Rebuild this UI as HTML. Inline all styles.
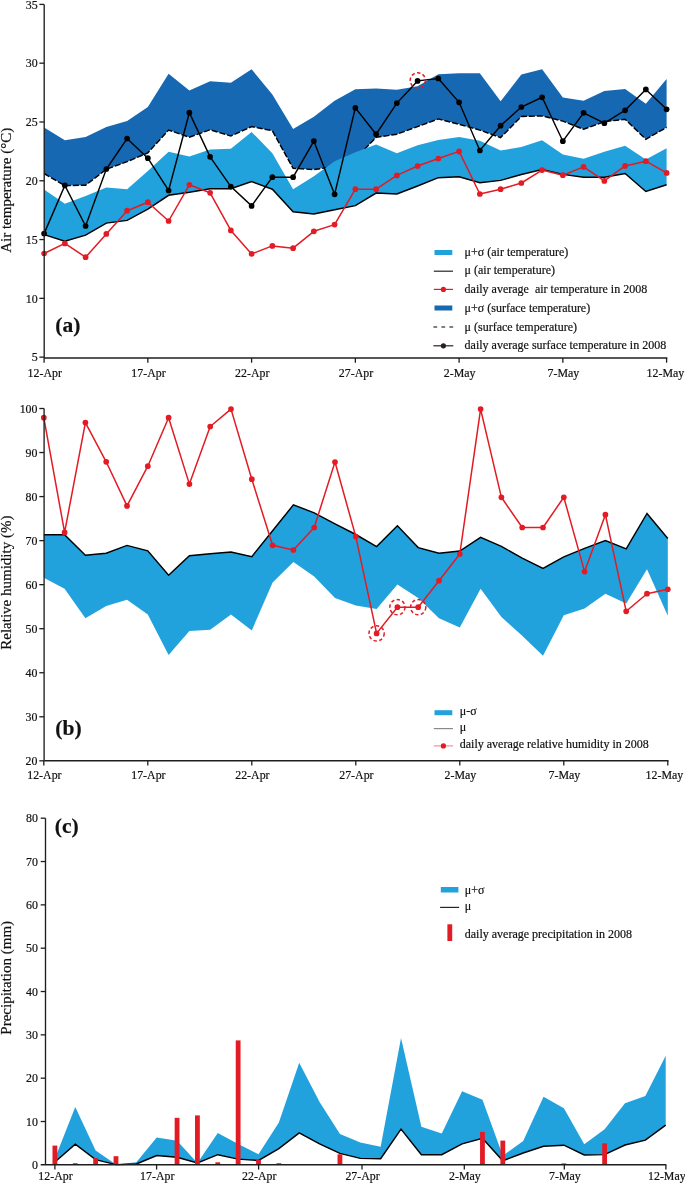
<!DOCTYPE html>
<html><head><meta charset="utf-8"><style>
html,body{margin:0;padding:0;background:#fff;}
body{width:685px;height:1183px;overflow:hidden;}
svg{display:block;will-change:transform;}
text{font-family:"Liberation Serif",serif;fill:#111;stroke:#111;stroke-width:0.2px;}
.tk{font-size:11.9px;}
.ax{font-size:15.0px;}
.lg{font-size:12px;}
.pl{font-size:21.5px;font-weight:bold;}
</style></head><body>
<svg width="685" height="1183" viewBox="0 0 685 1183">
<polygon points="44.10,127.60 64.85,140.20 85.60,136.90 106.35,127.00 127.10,121.10 147.85,107.00 168.60,73.80 189.35,90.50 210.10,81.30 230.85,82.70 251.60,69.20 272.35,94.60 293.10,128.90 313.85,116.80 334.60,100.80 355.35,89.30 376.10,88.40 396.85,89.80 417.60,86.30 438.35,74.20 459.10,73.30 479.85,73.30 500.60,101.20 521.35,74.60 542.10,69.20 562.85,97.40 583.60,100.80 604.35,90.90 625.10,89.00 645.85,103.70 666.60,79.00 666.60,127.40 645.85,139.30 625.10,119.20 604.35,121.70 583.60,129.30 562.85,121.10 542.10,115.90 521.35,116.50 500.60,137.60 479.85,130.10 459.10,124.30 438.35,118.90 417.60,126.60 396.85,134.20 376.10,137.40 355.35,158.90 334.60,166.50 313.85,169.60 293.10,168.30 272.35,130.70 251.60,126.60 230.85,136.00 210.10,129.80 189.35,137.20 168.60,130.10 147.85,152.80 127.10,161.70 106.35,169.30 85.60,185.20 64.85,185.60 44.10,173.50" fill="#1668b2"/>
<polyline points="44.10,173.50 64.85,185.60 85.60,185.20 106.35,169.30 127.10,161.70 147.85,152.80 168.60,130.10 189.35,137.20 210.10,129.80 230.85,136.00 251.60,126.60 272.35,130.70 293.10,168.30 313.85,169.60 334.60,166.50 355.35,158.90 376.10,137.40 396.85,134.20 417.60,126.60 438.35,118.90 459.10,124.30 479.85,130.10 500.60,137.60 521.35,116.50 542.10,115.90 562.85,121.10 583.60,129.30 604.35,121.70 625.10,119.20 645.85,139.30 666.60,127.40" fill="none" stroke="#000" stroke-width="1.45" stroke-dasharray="6,2"/>
<polygon points="44.10,189.60 64.85,203.80 85.60,196.00 106.35,187.60 127.10,189.30 147.85,171.00 168.60,151.80 189.35,156.40 210.10,149.60 230.85,148.80 251.60,131.90 272.35,153.20 293.10,189.20 313.85,176.30 334.60,161.20 355.35,152.30 376.10,144.50 396.85,153.30 417.60,145.20 438.35,139.90 459.10,136.90 479.85,140.80 500.60,150.50 521.35,147.00 542.10,140.20 562.85,154.50 583.60,158.70 604.35,151.70 625.10,145.80 645.85,159.60 666.60,148.30 666.60,184.70 645.85,191.50 625.10,173.50 604.35,177.30 583.60,177.30 562.85,174.40 542.10,169.50 521.35,174.50 500.60,180.40 479.85,182.80 459.10,176.80 438.35,177.70 417.60,186.00 396.85,194.00 376.10,193.10 355.35,205.60 334.60,209.70 313.85,213.90 293.10,211.80 272.35,189.20 251.60,181.60 230.85,188.70 210.10,188.70 189.35,192.30 168.60,195.30 147.85,209.10 127.10,220.40 106.35,223.10 85.60,235.20 64.85,241.20 44.10,234.60" fill="#22a2dc"/>
<polyline points="44.10,234.60 64.85,241.20 85.60,235.20 106.35,223.10 127.10,220.40 147.85,209.10 168.60,195.30 189.35,192.30 210.10,188.70 230.85,188.70 251.60,181.60 272.35,189.20 293.10,211.80 313.85,213.90 334.60,209.70 355.35,205.60 376.10,193.10 396.85,194.00 417.60,186.00 438.35,177.70 459.10,176.80 479.85,182.80 500.60,180.40 521.35,174.50 542.10,169.50 562.85,174.40 583.60,177.30 604.35,177.30 625.10,173.50 645.85,191.50 666.60,184.70" fill="none" stroke="#000" stroke-width="1.45"/>
<polyline points="44.10,253.50 64.85,243.40 85.60,257.20 106.35,233.90 127.10,210.70 147.85,202.20 168.60,221.00 189.35,184.80 210.10,192.80 230.85,230.40 251.60,253.90 272.35,245.90 293.10,248.20 313.85,231.30 334.60,224.60 355.35,189.20 376.10,189.20 396.85,175.40 417.60,166.00 438.35,158.50 459.10,151.40 479.85,194.00 500.60,189.20 521.35,183.00 542.10,170.10 562.85,175.20 583.60,166.90 604.35,180.90 625.10,165.90 645.85,161.20 666.60,172.90" fill="none" stroke="#e21b24" stroke-width="1.5" stroke-linejoin="round"/>
<circle cx="44.10" cy="253.5" r="2.85" fill="#e21b24"/>
<circle cx="64.85" cy="243.4" r="2.85" fill="#e21b24"/>
<circle cx="85.60" cy="257.2" r="2.85" fill="#e21b24"/>
<circle cx="106.35" cy="233.9" r="2.85" fill="#e21b24"/>
<circle cx="127.10" cy="210.7" r="2.85" fill="#e21b24"/>
<circle cx="147.85" cy="202.2" r="2.85" fill="#e21b24"/>
<circle cx="168.60" cy="221.0" r="2.85" fill="#e21b24"/>
<circle cx="189.35" cy="184.8" r="2.85" fill="#e21b24"/>
<circle cx="210.10" cy="192.8" r="2.85" fill="#e21b24"/>
<circle cx="230.85" cy="230.4" r="2.85" fill="#e21b24"/>
<circle cx="251.60" cy="253.9" r="2.85" fill="#e21b24"/>
<circle cx="272.35" cy="245.9" r="2.85" fill="#e21b24"/>
<circle cx="293.10" cy="248.2" r="2.85" fill="#e21b24"/>
<circle cx="313.85" cy="231.3" r="2.85" fill="#e21b24"/>
<circle cx="334.60" cy="224.6" r="2.85" fill="#e21b24"/>
<circle cx="355.35" cy="189.2" r="2.85" fill="#e21b24"/>
<circle cx="376.10" cy="189.2" r="2.85" fill="#e21b24"/>
<circle cx="396.85" cy="175.4" r="2.85" fill="#e21b24"/>
<circle cx="417.60" cy="166.0" r="2.85" fill="#e21b24"/>
<circle cx="438.35" cy="158.5" r="2.85" fill="#e21b24"/>
<circle cx="459.10" cy="151.4" r="2.85" fill="#e21b24"/>
<circle cx="479.85" cy="194.0" r="2.85" fill="#e21b24"/>
<circle cx="500.60" cy="189.2" r="2.85" fill="#e21b24"/>
<circle cx="521.35" cy="183.0" r="2.85" fill="#e21b24"/>
<circle cx="542.10" cy="170.1" r="2.85" fill="#e21b24"/>
<circle cx="562.85" cy="175.2" r="2.85" fill="#e21b24"/>
<circle cx="583.60" cy="166.9" r="2.85" fill="#e21b24"/>
<circle cx="604.35" cy="180.9" r="2.85" fill="#e21b24"/>
<circle cx="625.10" cy="165.9" r="2.85" fill="#e21b24"/>
<circle cx="645.85" cy="161.2" r="2.85" fill="#e21b24"/>
<circle cx="666.60" cy="172.9" r="2.85" fill="#e21b24"/>
<polyline points="44.10,233.60 64.85,185.40 85.60,226.00 106.35,169.00 127.10,138.50 147.85,158.20 168.60,190.50 189.35,112.70 210.10,156.80 230.85,186.60 251.60,205.90 272.35,177.20 293.10,177.20 313.85,141.10 334.60,194.30 355.35,107.90 376.10,134.20 396.85,103.10 417.60,80.90 438.35,78.50 459.10,102.30 479.85,150.50 500.60,125.70 521.35,107.00 542.10,97.30 562.85,141.20 583.60,112.80 604.35,123.20 625.10,110.30 645.85,89.40 666.60,109.30" fill="none" stroke="#000" stroke-width="1.45"/>
<circle cx="44.10" cy="233.6" r="2.85" fill="#000"/>
<circle cx="64.85" cy="185.4" r="2.85" fill="#000"/>
<circle cx="85.60" cy="226.0" r="2.85" fill="#000"/>
<circle cx="106.35" cy="169.0" r="2.85" fill="#000"/>
<circle cx="127.10" cy="138.5" r="2.85" fill="#000"/>
<circle cx="147.85" cy="158.2" r="2.85" fill="#000"/>
<circle cx="168.60" cy="190.5" r="2.85" fill="#000"/>
<circle cx="189.35" cy="112.7" r="2.85" fill="#000"/>
<circle cx="210.10" cy="156.8" r="2.85" fill="#000"/>
<circle cx="230.85" cy="186.6" r="2.85" fill="#000"/>
<circle cx="251.60" cy="205.9" r="2.85" fill="#000"/>
<circle cx="272.35" cy="177.2" r="2.85" fill="#000"/>
<circle cx="293.10" cy="177.2" r="2.85" fill="#000"/>
<circle cx="313.85" cy="141.1" r="2.85" fill="#000"/>
<circle cx="334.60" cy="194.3" r="2.85" fill="#000"/>
<circle cx="355.35" cy="107.9" r="2.85" fill="#000"/>
<circle cx="376.10" cy="134.2" r="2.85" fill="#000"/>
<circle cx="396.85" cy="103.1" r="2.85" fill="#000"/>
<circle cx="417.60" cy="80.9" r="2.85" fill="#000"/>
<circle cx="438.35" cy="78.5" r="2.85" fill="#000"/>
<circle cx="459.10" cy="102.3" r="2.85" fill="#000"/>
<circle cx="479.85" cy="150.5" r="2.85" fill="#000"/>
<circle cx="500.60" cy="125.7" r="2.85" fill="#000"/>
<circle cx="521.35" cy="107.0" r="2.85" fill="#000"/>
<circle cx="542.10" cy="97.3" r="2.85" fill="#000"/>
<circle cx="562.85" cy="141.2" r="2.85" fill="#000"/>
<circle cx="583.60" cy="112.8" r="2.85" fill="#000"/>
<circle cx="604.35" cy="123.2" r="2.85" fill="#000"/>
<circle cx="625.10" cy="110.3" r="2.85" fill="#000"/>
<circle cx="645.85" cy="89.4" r="2.85" fill="#000"/>
<circle cx="666.60" cy="109.3" r="2.85" fill="#000"/>
<circle cx="417.8" cy="80.4" r="7.6" fill="none" stroke="#e21b24" stroke-width="1.5" stroke-dasharray="3.4,2.4"/>
<polygon points="43.80,534.80 64.60,534.80 85.40,555.20 106.20,553.20 127.00,545.40 147.80,550.80 168.60,575.30 189.40,555.70 210.20,553.70 231.00,552.00 251.80,556.60 272.60,530.70 293.40,504.90 314.20,512.80 335.00,523.80 355.80,534.50 376.60,546.60 397.40,525.80 418.20,547.60 439.00,553.20 459.80,551.00 480.60,537.30 501.40,546.40 522.20,558.10 543.00,568.40 563.80,556.90 584.60,548.30 605.40,540.50 626.20,548.80 647.00,513.50 667.80,538.50 667.80,615.70 647.00,569.20 626.20,603.50 605.40,593.70 584.60,608.40 563.80,615.30 543.00,655.70 522.20,635.80 501.40,617.00 480.60,588.80 459.80,627.50 439.00,618.20 418.20,598.10 397.40,584.40 376.60,608.90 355.80,605.50 335.00,598.10 314.20,576.50 293.40,561.90 272.60,582.60 251.80,630.40 231.00,614.50 210.20,629.70 189.40,630.90 168.60,655.00 147.80,614.50 127.00,599.80 106.20,605.90 85.40,618.20 64.60,588.80 43.80,577.70" fill="#22a2dc"/>
<polyline points="43.80,534.80 64.60,534.80 85.40,555.20 106.20,553.20 127.00,545.40 147.80,550.80 168.60,575.30 189.40,555.70 210.20,553.70 231.00,552.00 251.80,556.60 272.60,530.70 293.40,504.90 314.20,512.80 335.00,523.80 355.80,534.50 376.60,546.60 397.40,525.80 418.20,547.60 439.00,553.20 459.80,551.00 480.60,537.30 501.40,546.40 522.20,558.10 543.00,568.40 563.80,556.90 584.60,548.30 605.40,540.50 626.20,548.80 647.00,513.50 667.80,538.50" fill="none" stroke="#000" stroke-width="1.45"/>
<polyline points="43.80,417.70 64.60,532.40 85.40,422.60 106.20,461.80 127.00,505.90 147.80,466.20 168.60,417.70 189.40,484.10 210.20,426.50 231.00,409.10 251.80,479.20 272.60,545.30 293.40,550.00 314.20,527.50 335.00,462.00 355.80,536.60 376.60,633.40 397.40,607.20 418.20,607.20 439.00,580.70 459.80,554.00 480.60,409.10 501.40,497.30 522.20,527.50 543.00,527.50 563.80,497.30 584.60,571.60 605.40,514.70 626.20,611.30 647.00,593.70 667.80,589.30" fill="none" stroke="#e21b24" stroke-width="1.5" stroke-linejoin="round"/>
<circle cx="43.80" cy="417.7" r="2.85" fill="#e21b24"/>
<circle cx="64.60" cy="532.4" r="2.85" fill="#e21b24"/>
<circle cx="85.40" cy="422.6" r="2.85" fill="#e21b24"/>
<circle cx="106.20" cy="461.8" r="2.85" fill="#e21b24"/>
<circle cx="127.00" cy="505.9" r="2.85" fill="#e21b24"/>
<circle cx="147.80" cy="466.2" r="2.85" fill="#e21b24"/>
<circle cx="168.60" cy="417.7" r="2.85" fill="#e21b24"/>
<circle cx="189.40" cy="484.1" r="2.85" fill="#e21b24"/>
<circle cx="210.20" cy="426.5" r="2.85" fill="#e21b24"/>
<circle cx="231.00" cy="409.1" r="2.85" fill="#e21b24"/>
<circle cx="251.80" cy="479.2" r="2.85" fill="#e21b24"/>
<circle cx="272.60" cy="545.3" r="2.85" fill="#e21b24"/>
<circle cx="293.40" cy="550.0" r="2.85" fill="#e21b24"/>
<circle cx="314.20" cy="527.5" r="2.85" fill="#e21b24"/>
<circle cx="335.00" cy="462.0" r="2.85" fill="#e21b24"/>
<circle cx="355.80" cy="536.6" r="2.85" fill="#e21b24"/>
<circle cx="376.60" cy="633.4" r="2.85" fill="#e21b24"/>
<circle cx="397.40" cy="607.2" r="2.85" fill="#e21b24"/>
<circle cx="418.20" cy="607.2" r="2.85" fill="#e21b24"/>
<circle cx="439.00" cy="580.7" r="2.85" fill="#e21b24"/>
<circle cx="459.80" cy="554.0" r="2.85" fill="#e21b24"/>
<circle cx="480.60" cy="409.1" r="2.85" fill="#e21b24"/>
<circle cx="501.40" cy="497.3" r="2.85" fill="#e21b24"/>
<circle cx="522.20" cy="527.5" r="2.85" fill="#e21b24"/>
<circle cx="543.00" cy="527.5" r="2.85" fill="#e21b24"/>
<circle cx="563.80" cy="497.3" r="2.85" fill="#e21b24"/>
<circle cx="584.60" cy="571.6" r="2.85" fill="#e21b24"/>
<circle cx="605.40" cy="514.7" r="2.85" fill="#e21b24"/>
<circle cx="626.20" cy="611.3" r="2.85" fill="#e21b24"/>
<circle cx="647.00" cy="593.7" r="2.85" fill="#e21b24"/>
<circle cx="667.80" cy="589.3" r="2.85" fill="#e21b24"/>
<circle cx="376.60" cy="633.4" r="7.6" fill="none" stroke="#e21b24" stroke-width="1.5" stroke-dasharray="3.4,2.4"/>
<circle cx="397.40" cy="607.2" r="7.6" fill="none" stroke="#e21b24" stroke-width="1.5" stroke-dasharray="3.4,2.4"/>
<circle cx="418.20" cy="607.2" r="7.6" fill="none" stroke="#e21b24" stroke-width="1.5" stroke-dasharray="3.4,2.4"/>
<polygon points="54.90,1158.40 75.26,1106.90 95.62,1150.50 115.98,1164.40 136.34,1162.30 156.70,1137.60 177.06,1140.80 197.42,1162.90 217.78,1133.10 238.14,1143.90 258.50,1154.20 278.86,1122.60 299.22,1062.80 319.58,1102.10 339.94,1134.00 360.30,1142.40 380.66,1146.70 401.02,1038.00 421.38,1126.80 441.74,1133.40 462.10,1091.30 482.46,1099.80 502.82,1155.80 523.18,1141.00 543.54,1096.80 563.90,1108.20 584.26,1144.30 604.62,1129.20 624.98,1103.30 645.34,1096.00 665.70,1055.70 665.70,1125.10 645.34,1140.20 624.98,1145.00 604.62,1154.60 584.26,1154.90 563.90,1145.20 543.54,1146.20 523.18,1153.00 502.82,1160.80 482.46,1138.20 462.10,1143.90 441.74,1154.70 421.38,1154.70 401.02,1129.10 380.66,1158.70 360.30,1158.40 339.94,1153.40 319.58,1143.90 299.22,1132.90 278.86,1148.60 258.50,1160.50 238.14,1159.10 217.78,1154.70 197.42,1162.90 177.06,1157.20 156.70,1155.50 136.34,1164.00 115.98,1164.60 95.62,1159.60 75.26,1144.20 54.90,1162.00" fill="#22a2dc"/>
<polyline points="54.90,1162.00 75.26,1144.20 95.62,1159.60 115.98,1164.60 136.34,1164.00 156.70,1155.50 177.06,1157.20 197.42,1162.90 217.78,1154.70 238.14,1159.10 258.50,1160.50 278.86,1148.60 299.22,1132.90 319.58,1143.90 339.94,1153.40 360.30,1158.40 380.66,1158.70 401.02,1129.10 421.38,1154.70 441.74,1154.70 462.10,1143.90 482.46,1138.20 502.82,1160.80 523.18,1153.00 543.54,1146.20 563.90,1145.20 584.26,1154.90 604.62,1154.60 624.98,1145.00 645.34,1140.20 665.70,1125.10" fill="none" stroke="#000" stroke-width="1.45"/>
<rect x="52.50" y="1145.60" width="4.8" height="19.20" fill="#e21b24"/>
<rect x="72.86" y="1163.20" width="4.8" height="1.60" fill="#e21b24"/>
<rect x="93.22" y="1158.00" width="4.8" height="6.80" fill="#e21b24"/>
<rect x="113.58" y="1156.20" width="4.8" height="8.60" fill="#e21b24"/>
<rect x="174.66" y="1117.80" width="4.8" height="47.00" fill="#e21b24"/>
<rect x="195.02" y="1115.40" width="4.8" height="49.40" fill="#e21b24"/>
<rect x="215.38" y="1162.30" width="4.8" height="2.50" fill="#e21b24"/>
<rect x="235.74" y="1040.40" width="4.8" height="124.40" fill="#e21b24"/>
<rect x="256.10" y="1159.60" width="4.8" height="5.20" fill="#e21b24"/>
<rect x="276.46" y="1163.20" width="4.8" height="1.60" fill="#e21b24"/>
<rect x="337.54" y="1154.30" width="4.8" height="10.50" fill="#e21b24"/>
<rect x="480.06" y="1131.90" width="4.8" height="32.90" fill="#e21b24"/>
<rect x="500.42" y="1140.60" width="4.8" height="24.20" fill="#e21b24"/>
<rect x="561.50" y="1163.40" width="4.8" height="1.40" fill="#e21b24"/>
<rect x="602.22" y="1143.40" width="4.8" height="21.40" fill="#e21b24"/>
<line x1="44.2" y1="4.4" x2="44.2" y2="357.9" stroke="#1e1e1e" stroke-width="1.35"/>
<line x1="44.2" y1="357.9" x2="667.3000000000001" y2="357.9" stroke="#1e1e1e" stroke-width="1.5"/>
<line x1="39.400000000000006" y1="4.4" x2="44.2" y2="4.4" stroke="#1e1e1e" stroke-width="1.3"/>
<text transform="translate(37.60,8.60) scale(1,1.07)" text-anchor="end" class="tk">35</text>
<line x1="39.400000000000006" y1="63.19" x2="44.2" y2="63.19" stroke="#1e1e1e" stroke-width="1.3"/>
<text transform="translate(37.60,67.39) scale(1,1.07)" text-anchor="end" class="tk">30</text>
<line x1="39.400000000000006" y1="121.98" x2="44.2" y2="121.98" stroke="#1e1e1e" stroke-width="1.3"/>
<text transform="translate(37.60,126.18) scale(1,1.07)" text-anchor="end" class="tk">25</text>
<line x1="39.400000000000006" y1="180.77" x2="44.2" y2="180.77" stroke="#1e1e1e" stroke-width="1.3"/>
<text transform="translate(37.60,184.97) scale(1,1.07)" text-anchor="end" class="tk">20</text>
<line x1="39.400000000000006" y1="239.56" x2="44.2" y2="239.56" stroke="#1e1e1e" stroke-width="1.3"/>
<text transform="translate(37.60,243.76) scale(1,1.07)" text-anchor="end" class="tk">15</text>
<line x1="39.400000000000006" y1="298.34999999999997" x2="44.2" y2="298.34999999999997" stroke="#1e1e1e" stroke-width="1.3"/>
<text transform="translate(37.60,302.55) scale(1,1.07)" text-anchor="end" class="tk">10</text>
<line x1="39.400000000000006" y1="357.14" x2="44.2" y2="357.14" stroke="#1e1e1e" stroke-width="1.3"/>
<text transform="translate(37.60,361.34) scale(1,1.07)" text-anchor="end" class="tk">5</text>
<line x1="44.1" y1="357.9" x2="44.1" y2="362.7" stroke="#1e1e1e" stroke-width="1.3"/>
<text transform="translate(44.70,376.90) scale(1,1.07)" text-anchor="middle" class="tk">12-Apr</text>
<line x1="147.85" y1="357.9" x2="147.85" y2="362.7" stroke="#1e1e1e" stroke-width="1.3"/>
<text transform="translate(148.45,376.90) scale(1,1.07)" text-anchor="middle" class="tk">17-Apr</text>
<line x1="251.6" y1="357.9" x2="251.6" y2="362.7" stroke="#1e1e1e" stroke-width="1.3"/>
<text transform="translate(252.20,376.90) scale(1,1.07)" text-anchor="middle" class="tk">22-Apr</text>
<line x1="355.35" y1="357.9" x2="355.35" y2="362.7" stroke="#1e1e1e" stroke-width="1.3"/>
<text transform="translate(355.95,376.90) scale(1,1.07)" text-anchor="middle" class="tk">27-Apr</text>
<line x1="459.1" y1="357.9" x2="459.1" y2="362.7" stroke="#1e1e1e" stroke-width="1.3"/>
<text transform="translate(459.70,376.90) scale(1,1.07)" text-anchor="middle" class="tk">2-May</text>
<line x1="562.85" y1="357.9" x2="562.85" y2="362.7" stroke="#1e1e1e" stroke-width="1.3"/>
<text transform="translate(563.45,376.90) scale(1,1.07)" text-anchor="middle" class="tk">7-May</text>
<line x1="666.6" y1="357.9" x2="666.6" y2="362.7" stroke="#1e1e1e" stroke-width="1.3"/>
<text transform="translate(646.60,376.90) scale(1,1.07)" text-anchor="start" class="tk">12-May</text>
<line x1="44.1" y1="408.5" x2="44.1" y2="760.8" stroke="#1e1e1e" stroke-width="1.35"/>
<line x1="44.1" y1="760.8" x2="668.5" y2="760.8" stroke="#1e1e1e" stroke-width="1.5"/>
<line x1="39.300000000000004" y1="408.5" x2="44.1" y2="408.5" stroke="#1e1e1e" stroke-width="1.3"/>
<text transform="translate(37.50,412.70) scale(1,1.07)" text-anchor="end" class="tk">100</text>
<line x1="39.300000000000004" y1="452.54" x2="44.1" y2="452.54" stroke="#1e1e1e" stroke-width="1.3"/>
<text transform="translate(37.50,456.74) scale(1,1.07)" text-anchor="end" class="tk">90</text>
<line x1="39.300000000000004" y1="496.58" x2="44.1" y2="496.58" stroke="#1e1e1e" stroke-width="1.3"/>
<text transform="translate(37.50,500.78) scale(1,1.07)" text-anchor="end" class="tk">80</text>
<line x1="39.300000000000004" y1="540.62" x2="44.1" y2="540.62" stroke="#1e1e1e" stroke-width="1.3"/>
<text transform="translate(37.50,544.82) scale(1,1.07)" text-anchor="end" class="tk">70</text>
<line x1="39.300000000000004" y1="584.66" x2="44.1" y2="584.66" stroke="#1e1e1e" stroke-width="1.3"/>
<text transform="translate(37.50,588.86) scale(1,1.07)" text-anchor="end" class="tk">60</text>
<line x1="39.300000000000004" y1="628.7" x2="44.1" y2="628.7" stroke="#1e1e1e" stroke-width="1.3"/>
<text transform="translate(37.50,632.90) scale(1,1.07)" text-anchor="end" class="tk">50</text>
<line x1="39.300000000000004" y1="672.74" x2="44.1" y2="672.74" stroke="#1e1e1e" stroke-width="1.3"/>
<text transform="translate(37.50,676.94) scale(1,1.07)" text-anchor="end" class="tk">40</text>
<line x1="39.300000000000004" y1="716.78" x2="44.1" y2="716.78" stroke="#1e1e1e" stroke-width="1.3"/>
<text transform="translate(37.50,720.98) scale(1,1.07)" text-anchor="end" class="tk">30</text>
<line x1="39.300000000000004" y1="760.8199999999999" x2="44.1" y2="760.8199999999999" stroke="#1e1e1e" stroke-width="1.3"/>
<text transform="translate(37.50,765.02) scale(1,1.07)" text-anchor="end" class="tk">20</text>
<line x1="43.8" y1="760.8" x2="43.8" y2="765.5999999999999" stroke="#1e1e1e" stroke-width="1.3"/>
<text transform="translate(44.40,778.90) scale(1,1.07)" text-anchor="middle" class="tk">12-Apr</text>
<line x1="147.8" y1="760.8" x2="147.8" y2="765.5999999999999" stroke="#1e1e1e" stroke-width="1.3"/>
<text transform="translate(148.40,778.90) scale(1,1.07)" text-anchor="middle" class="tk">17-Apr</text>
<line x1="251.8" y1="760.8" x2="251.8" y2="765.5999999999999" stroke="#1e1e1e" stroke-width="1.3"/>
<text transform="translate(252.40,778.90) scale(1,1.07)" text-anchor="middle" class="tk">22-Apr</text>
<line x1="355.8" y1="760.8" x2="355.8" y2="765.5999999999999" stroke="#1e1e1e" stroke-width="1.3"/>
<text transform="translate(356.40,778.90) scale(1,1.07)" text-anchor="middle" class="tk">27-Apr</text>
<line x1="459.8" y1="760.8" x2="459.8" y2="765.5999999999999" stroke="#1e1e1e" stroke-width="1.3"/>
<text transform="translate(460.40,778.90) scale(1,1.07)" text-anchor="middle" class="tk">2-May</text>
<line x1="563.8" y1="760.8" x2="563.8" y2="765.5999999999999" stroke="#1e1e1e" stroke-width="1.3"/>
<text transform="translate(564.40,778.90) scale(1,1.07)" text-anchor="middle" class="tk">7-May</text>
<line x1="667.8" y1="760.8" x2="667.8" y2="765.5999999999999" stroke="#1e1e1e" stroke-width="1.3"/>
<text transform="translate(645.60,778.90) scale(1,1.07)" text-anchor="start" class="tk">12-May</text>
<line x1="45.5" y1="818.2" x2="45.5" y2="1164.8" stroke="#1e1e1e" stroke-width="1.35"/>
<line x1="40.7" y1="1164.8" x2="666.3" y2="1164.8" stroke="#1e1e1e" stroke-width="1.5"/>
<line x1="40.7" y1="818.2" x2="45.5" y2="818.2" stroke="#1e1e1e" stroke-width="1.3"/>
<text transform="translate(37.90,822.40) scale(1,1.07)" text-anchor="end" class="tk">80</text>
<line x1="40.7" y1="861.5300000000001" x2="45.5" y2="861.5300000000001" stroke="#1e1e1e" stroke-width="1.3"/>
<text transform="translate(37.90,865.73) scale(1,1.07)" text-anchor="end" class="tk">70</text>
<line x1="40.7" y1="904.86" x2="45.5" y2="904.86" stroke="#1e1e1e" stroke-width="1.3"/>
<text transform="translate(37.90,909.06) scale(1,1.07)" text-anchor="end" class="tk">60</text>
<line x1="40.7" y1="948.19" x2="45.5" y2="948.19" stroke="#1e1e1e" stroke-width="1.3"/>
<text transform="translate(37.90,952.39) scale(1,1.07)" text-anchor="end" class="tk">50</text>
<line x1="40.7" y1="991.52" x2="45.5" y2="991.52" stroke="#1e1e1e" stroke-width="1.3"/>
<text transform="translate(37.90,995.72) scale(1,1.07)" text-anchor="end" class="tk">40</text>
<line x1="40.7" y1="1034.85" x2="45.5" y2="1034.85" stroke="#1e1e1e" stroke-width="1.3"/>
<text transform="translate(37.90,1039.05) scale(1,1.07)" text-anchor="end" class="tk">30</text>
<line x1="40.7" y1="1078.18" x2="45.5" y2="1078.18" stroke="#1e1e1e" stroke-width="1.3"/>
<text transform="translate(37.90,1082.38) scale(1,1.07)" text-anchor="end" class="tk">20</text>
<line x1="40.7" y1="1121.51" x2="45.5" y2="1121.51" stroke="#1e1e1e" stroke-width="1.3"/>
<text transform="translate(37.90,1125.71) scale(1,1.07)" text-anchor="end" class="tk">10</text>
<text transform="translate(37.90,1169.04) scale(1,1.07)" text-anchor="end" class="tk">0</text>
<line x1="54.9" y1="1164.8" x2="54.9" y2="1169.6" stroke="#1e1e1e" stroke-width="1.3"/>
<text transform="translate(55.50,1180.30) scale(1,1.07)" text-anchor="middle" class="tk">12-Apr</text>
<line x1="156.6" y1="1164.8" x2="156.6" y2="1169.6" stroke="#1e1e1e" stroke-width="1.3"/>
<text transform="translate(157.20,1180.30) scale(1,1.07)" text-anchor="middle" class="tk">17-Apr</text>
<line x1="258.6" y1="1164.8" x2="258.6" y2="1169.6" stroke="#1e1e1e" stroke-width="1.3"/>
<text transform="translate(259.20,1180.30) scale(1,1.07)" text-anchor="middle" class="tk">22-Apr</text>
<line x1="362.0" y1="1164.8" x2="362.0" y2="1169.6" stroke="#1e1e1e" stroke-width="1.3"/>
<text transform="translate(362.60,1180.30) scale(1,1.07)" text-anchor="middle" class="tk">27-Apr</text>
<line x1="464.3" y1="1164.8" x2="464.3" y2="1169.6" stroke="#1e1e1e" stroke-width="1.3"/>
<text transform="translate(464.90,1180.30) scale(1,1.07)" text-anchor="middle" class="tk">2-May</text>
<line x1="564.3" y1="1164.8" x2="564.3" y2="1169.6" stroke="#1e1e1e" stroke-width="1.3"/>
<text transform="translate(564.90,1180.30) scale(1,1.07)" text-anchor="middle" class="tk">7-May</text>
<line x1="665.9" y1="1164.8" x2="665.9" y2="1169.6" stroke="#1e1e1e" stroke-width="1.3"/>
<text transform="translate(648.00,1180.30) scale(1,1.07)" text-anchor="start" class="tk">12-May</text>
<text transform="translate(11.2,190.3) rotate(-90)" text-anchor="middle" class="ax">Air temperature (°C)</text>
<text transform="translate(11.2,582.7) rotate(-90)" text-anchor="middle" class="ax">Relative humidity (%)</text>
<text transform="translate(11.2,977.8) rotate(-90)" text-anchor="middle" class="ax">Precipitation (mm)</text>
<text x="55.3" y="332.3" class="pl">(a)</text>
<text x="55.3" y="734.9" class="pl">(b)</text>
<text x="54.8" y="833.0" class="pl">(c)</text>
<rect x="434.5" y="250" width="17.8" height="5" fill="#22a2dc"/>
<text x="464.6" y="256.0" class="lg">μ+σ (air temperature)</text>
<line x1="433.8" y1="271.2" x2="453" y2="271.2" stroke="#2a2222" stroke-width="1.2"/>
<text x="464.6" y="273.9" class="lg">μ (air temperature)</text>
<line x1="433.8" y1="289.4" x2="453" y2="289.4" stroke="#e21b24" stroke-width="1.2"/>
<circle cx="443.4" cy="289.4" r="2.6" fill="#e21b24"/>
<text x="464.6" y="292.5" class="lg">daily average&#160; air temperature in 2008</text>
<rect x="434.5" y="305.5" width="17.8" height="5" fill="#1668b2"/>
<text x="464.6" y="311.8" class="lg">μ+σ (surface temperature)</text>
<line x1="433.4" y1="327" x2="453.3" y2="327" stroke="#555" stroke-width="1.3" stroke-dasharray="3.8,4.2"/>
<text x="464.6" y="330.6" class="lg">μ (surface temperature)</text>
<line x1="433.4" y1="345.8" x2="453.3" y2="345.8" stroke="#2a2222" stroke-width="1.2"/>
<circle cx="443.4" cy="345.8" r="2.6" fill="#2a1f1f"/>
<text x="464.6" y="349.1" class="lg">daily average surface temperature in 2008</text>
<rect x="434.5" y="710.2" width="17.8" height="5" fill="#22a2dc"/>
<text x="459.8" y="714.9" class="lg">μ-σ</text>
<line x1="433.8" y1="728.6" x2="453" y2="728.6" stroke="#8a8a8a" stroke-width="1.2"/>
<text x="459.8" y="731.3" class="lg">μ</text>
<line x1="433.8" y1="745.9" x2="453" y2="745.9" stroke="#ec8a8e" stroke-width="1.1"/>
<circle cx="443.4" cy="745.9" r="2.6" fill="#e21b24"/>
<text x="459.8" y="748.1" class="lg">daily average relative humidity in 2008</text>
<rect x="440.8" y="887" width="17.6" height="5.5" fill="#22a2dc"/>
<text x="464.8" y="893.5" class="lg">μ+σ</text>
<line x1="440.1" y1="907.4" x2="459.1" y2="907.4" stroke="#2a2222" stroke-width="1.2"/>
<text x="464.8" y="910.0" class="lg">μ</text>
<rect x="447.4" y="924.3" width="4.8" height="16.7" fill="#e21b24"/>
<text x="464.8" y="937.7" class="lg">daily average precipitation in 2008</text>
</svg>
</body></html>
